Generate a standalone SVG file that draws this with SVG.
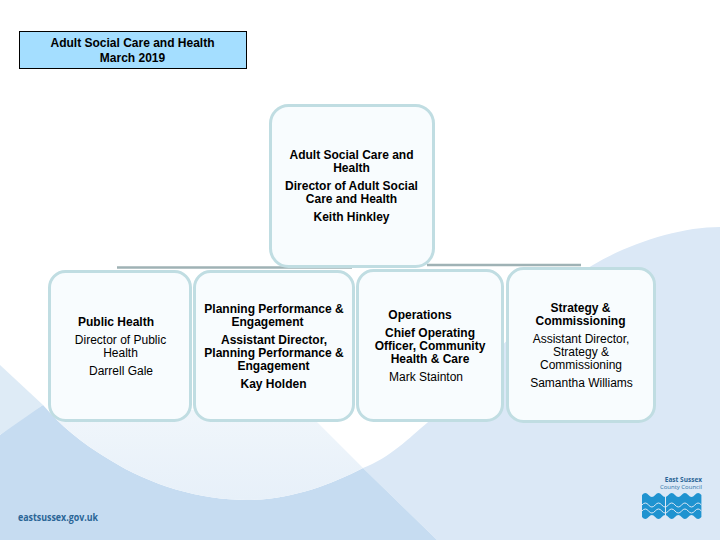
<svg xmlns="http://www.w3.org/2000/svg" width="720" height="540" viewBox="0 0 720 540">
<style>
text{font-family:"Liberation Sans",Arial,sans-serif;font-size:12px;fill:#000;text-anchor:middle}
.b{font-weight:bold}
.box{fill:#f8fcfe;stroke:#c0dde2;stroke-width:3}
.conn{stroke:#9fb2b5;stroke-width:2.500;fill:none}
.wl{fill:none;stroke:#dbe8f6;stroke-width:1}
</style>
<defs>
<linearGradient id="pale" x1="0" y1="0" x2="0" y2="1"><stop offset="0" stop-color="#f0f6fb"/><stop offset="1" stop-color="#e7f0f9"/></linearGradient>
</defs>
<g id="background">
<rect width="720" height="540" fill="#fff"/>
<path fill="#dbe8f6" d="M363 468C390 458 410 437 427 423C480 375 540 295 593 265C630 243 680 227 720 227V540H437Z"/>
<path fill="#c6dcf1" d="M0 435Q20 418 43 405C60 425 80 442 110 460C150 485 200 500 247 500C290 500 330 485 363 468L437 540H0Z"/>
<path fill="#deebf6" d="M0 365L43 405L0 435Z"/>
<path fill="url(#pale)" d="M55 418L60 410H305L363 468C330 485 290 500 247 500C200 500 150 485 110 460C90 448 72 435 55 418Z"/>
<text x="18" y="521" textLength="80" lengthAdjust="spacingAndGlyphs" style="font-family:'Open Sans',sans-serif;font-weight:bold;font-size:10.5px;fill:#2a6596;text-anchor:start">eastsussex.gov.uk</text>
</g>
<g id="logo">
<text x="702" y="482" style="font-family:'Open Sans',sans-serif;font-weight:bold;font-size:6.500px;fill:#2a6596;text-anchor:end">East Sussex</text>
<text x="702" y="489" style="font-family:'Open Sans',sans-serif;font-size:6px;fill:#2f73a8;text-anchor:end">County Council</text>
<path fill="#1f93d0" d="M642 495q3.300-4 6.600 0t6.600 0t6.600 0t6.600 0t6.600 0t6.600 0t6.600 0t6.600 0t6.600 0V517q-3.300 4-6.600 0t-6.600 0t-6.600 0t-6.600 0t-6.600 0t-6.600 0t-6.600 0t-6.600 0t-6.600 0Z"/>
<path class="wl" d="M642 505q3.300-4 6.600 0t6.600 0t6.600 0t6.600 0t6.600 0t6.600 0t6.600 0t6.600 0t6.600 0"/>
<path class="wl" d="M642 511q3.300-4 6.600 0t6.600 0t6.600 0t6.600 0t6.600 0t6.600 0t6.600 0t6.600 0t6.600 0"/>
<path d="M665.500 491V521" stroke="#dbe8f6" stroke-width="1" fill="none"/>
</g>
<g id="connectors">
<path class="conn" d="M117 267.500H352"/>
<path class="conn" d="M427 265H581"/>
</g>
<g id="title">
<rect x="19.500" y="31.500" width="227" height="37" fill="#a4deff" stroke="#000" stroke-width="1"/>
<text x="132.500" y="47" style="font-weight:bold">Adult Social Care and Health</text>
<text x="132.500" y="62" style="font-weight:bold">March 2019</text>
</g>
<g id="node-director">
<rect class="box" x="270.500" y="105.500" width="163" height="161" rx="18"/>
<text class="b" x="351.500" y="159">Adult Social Care and</text>
<text class="b" x="351.500" y="172">Health</text>
<text class="b" x="351.500" y="190">Director of Adult Social</text>
<text class="b" x="351.500" y="203">Care and Health</text>
<text class="b" x="351.500" y="221">Keith Hinkley</text>
</g>
<g id="node-public-health">
<rect class="box" x="49.500" y="271.500" width="141" height="149" rx="16"/>
<text class="b" x="116" y="326">Public Health</text>
<text x="120.500" y="344">Director of Public</text>
<text x="120.500" y="357">Health</text>
<text x="121" y="375">Darrell Gale</text>
</g>
<g id="node-planning">
<rect class="box" x="194.500" y="271.500" width="159" height="149" rx="16"/>
<text class="b" x="274" y="313">Planning Performance &amp;</text>
<text class="b" x="267.500" y="326">Engagement</text>
<text class="b" x="274" y="344">Assistant Director,</text>
<text class="b" x="274" y="357">Planning Performance &amp;</text>
<text class="b" x="273.500" y="370">Engagement</text>
<text class="b" x="273.500" y="388">Kay Holden</text>
</g>
<g id="node-operations">
<rect class="box" x="357.500" y="270.500" width="145" height="150" rx="16"/>
<text class="b" x="420" y="319">Operations</text>
<text class="b" x="430" y="337">Chief Operating</text>
<text class="b" x="430" y="350">Officer, Community</text>
<text class="b" x="430" y="363">Health &amp; Care</text>
<text x="426" y="381">Mark Stainton</text>
</g>
<g id="node-strategy">
<rect class="box" x="507.500" y="268.500" width="147" height="153" rx="16"/>
<text class="b" x="580.500" y="312">Strategy &amp;</text>
<text class="b" x="580.500" y="325">Commissioning</text>
<text x="581" y="343">Assistant Director,</text>
<text x="581" y="356">Strategy &amp;</text>
<text x="581" y="369">Commissioning</text>
<text x="581.500" y="387">Samantha Williams</text>
</g>
</svg>
